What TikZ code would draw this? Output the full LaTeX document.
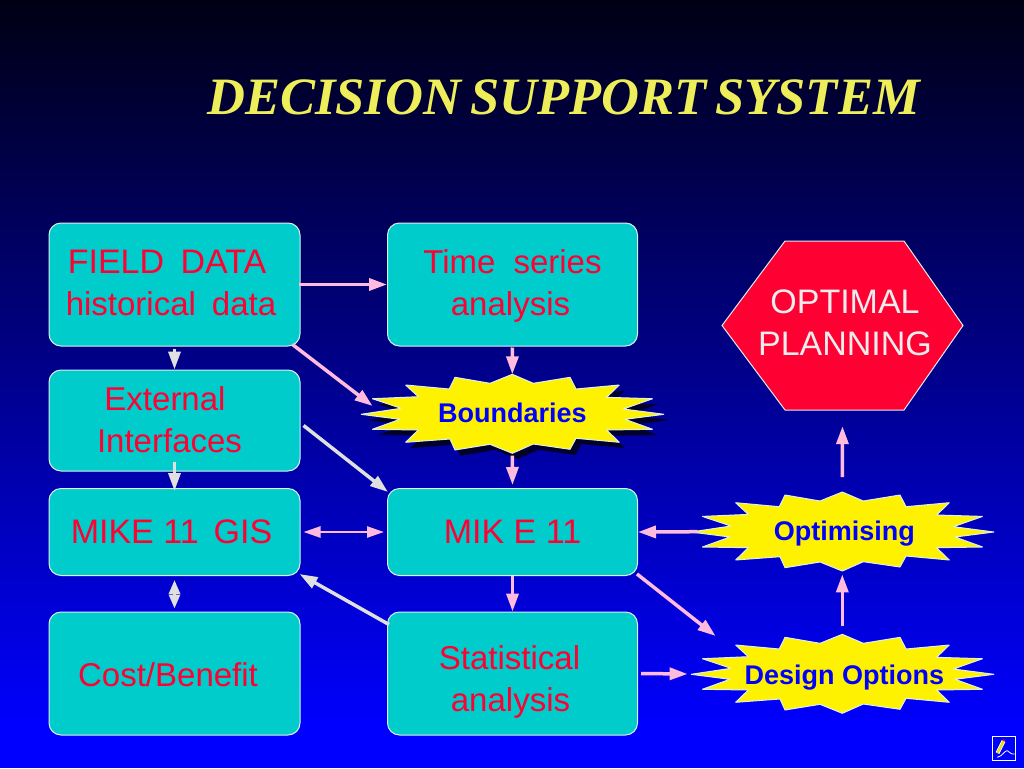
\documentclass[tikz,border=0pt]{standalone}
\usepackage{fontspec}
\setmainfont{Liberation Sans}
\newfontfamily\titlefont[WordSpace=0.7]{Liberation Serif}
\usetikzlibrary{arrows.meta}
\definecolor{boxteal}{RGB}{0,204,204}
\definecolor{boxred}{RGB}{255,0,51}
\definecolor{arrowpink}{RGB}{255,187,221}
\definecolor{arrowgrey}{RGB}{224,224,224}
\definecolor{edgegrey}{RGB}{221,238,238}
\definecolor{titleyellow}{RGB}{238,238,90}
\definecolor{burstshadow}{RGB}{0,0,40}
\definecolor{skytop}{RGB}{0,0,20}
\tikzset{
  databox/.style={draw=edgegrey,line width=1pt,fill=boxteal,rounded corners=12pt,
    minimum width=251pt,inner sep=0pt,text=boxred,font=\fontsize{33}{42}\selectfont},
  burstlabel/.style={minimum width=303pt,minimum height=79pt,inner sep=0pt,text=blue,
    font=\fontsize{27}{32}\bfseries\selectfont},
  burstedge/.style={edgegrey,line width=1pt,line join=bevel,fill=yellow},
  pinkarrow/.style={draw=arrowpink,line width=3.5pt,-{Triangle[length=18pt,width=12pt]}},
  greyarrow/.style={draw=arrowgrey,line width=3.5pt,-{Triangle[length=18pt,width=12pt]}},
  pinkboth/.style={draw=arrowpink,line width=2.5pt,{Triangle[length=17pt,width=11pt]}-{Triangle[length=17pt,width=11pt]}},
  greyboth/.style={draw=arrowgrey,line width=3pt,{Triangle[length=14pt,width=11pt]}-{Triangle[length=14pt,width=11pt]}}
}
\newcommand{\burstpath}{(0,-39.7) -- (21,-30.7) -- (57.7,-36.7) -- (63.7,-25) -- (107,-29) -- (94.3,-16.7)
  -- (140.3,-15.3) -- (111,-5) -- (151.7,0.3) -- (112.7,5.3) -- (140.3,15.3) -- (94.3,16) -- (107,28.3)
  -- (63.7,24.3) -- (57.7,35.3) -- (21,30) -- (0,39.3) -- (-22.3,30.3) -- (-57.3,36) -- (-62.3,25)
  -- (-106.7,28.3) -- (-94,16) -- (-140,15.3) -- (-112.3,5.3) -- (-151.3,0.3) -- (-111.3,-5.7) -- (-140,-15.3)
  -- (-94,-17.3) -- (-106.7,-29) -- (-63,-25) -- (-57.3,-36.7) -- (-22.3,-30.7) -- cycle}
\newcommand{\lines}[2]{\raisebox{#1pt}[0pt][0pt]{\begin{tabular}{@{}c@{}}#2\end{tabular}}}
\newcommand{\off}[1]{\hspace*{#1pt}}
\newcommand{\capsize}{\fontsize{34}{42}\selectfont}
\begin{document}
\begin{tikzpicture}[x=1pt,y=-1pt]
  \useasboundingbox (0,0) rectangle (1024,768);
  \fill[blue] (0,0) rectangle (1024,768);
  \shade[top color=skytop,bottom color=blue] (0,0) rectangle (1024,730);
  \node[text=titleyellow,font=\titlefont\fontsize{52.5}{60}\bfseries\itshape\selectfont] (title) at (563.5,97) {DECISION SUPPORT SYSTEM};

  % boxes
  \node[databox,minimum height=123pt] (fielddata) at (174.5,284.5) {\lines{-8}{\off{-15}\capsize FIELD\hspace{7pt} DATA\\\off{-7}historical\hspace{16pt}data}};
  \node[databox,minimum height=123pt,minimum width=250pt] (timeseries) at (512.5,284.5) {\lines{-8}{Time\hspace{18pt}series\\\off{-4}analysis}};
  \node[databox,minimum height=101pt] (external) at (174.5,420.5) {\lines{-9}{\off{-19}External\\\off{-10}Interfaces}};
  \node[databox,minimum height=87pt] (gis) at (174.5,532) {\lines{-9}{\off{-6}\capsize MIKE 11\hspace{15pt}GIS}};
  \node[databox,minimum height=87pt,minimum width=250pt] (mike) at (512.5,532) {\lines{-9}{\capsize MIK E 11}};
  \node[databox,minimum height=123pt] (cost) at (174.5,673.5) {\lines{-11}{\off{-13}Cost/Benefit}};
  \node[databox,minimum height=123pt,minimum width=250pt] (statistical) at (512.5,673.5) {\lines{-15}{\off{-6}Statistical\\\off{-4}analysis}};

  % hexagon
  \draw[edgegrey,line width=1pt,fill=boxred] (722,325.5) -- (785,241) -- (904,241) -- (963,325.5) -- (904,410) -- (785,410) -- cycle;
  \node[minimum width=241pt,minimum height=169pt,inner sep=0pt,text=white!93!black,font=\fontsize{34}{42}\selectfont] (optimal) at (842.5,325.5) {\lines{-7}{\off{5}OPTIMAL\\\off{5}PLANNING}};

  % bursts
  \fill[burstshadow,shift={(517.6,419.7)}] \burstpath;
  \draw[burstedge,shift={(512.3,414)}] \burstpath;
  \node[burstlabel] (boundaries) at (512.3,414) {\lines{-8}{Boundaries}};
  \draw[burstedge,shift={(842.3,531.7)}] \burstpath;
  \node[burstlabel] (optimising) at (842.3,531.7) {\lines{-9}{\off{4}Optimising}};
  \draw[burstedge,shift={(842.3,674)}] \burstpath;
  \node[burstlabel] (design) at (842.3,674) {\lines{-10}{\off{4}Design Options}};

  % arrows
  \draw[pinkarrow,shorten <=-2pt] (fielddata.east) -- (timeseries.west);
  \draw[pinkarrow,shorten <=1pt] (timeseries.south) -- (boundaries.north);
  \draw[pinkarrow,shorten <=2pt] (boundaries.south) -- ([yshift=3pt]mike.north);
  \draw[pinkarrow] ([shift={(-8,-2)}]fielddata.south east) -- ([shift={(12,-8)}]boundaries.west);
  \draw[greyarrow,shorten <=2pt] (fielddata.south) -- (external.north);
  \draw[greyarrow] ([yshift=10pt]external.south) -- ([yshift=-3pt]gis.north);
  \draw[greyarrow] ([shift={(3,5)}]external.east) -- ([shift={(1,4)}]mike.north west);
  \draw[pinkboth,shorten <=3pt,shorten >=3pt] (gis.east) -- (mike.west);
  \draw[greyboth,shorten <=4pt,shorten >=3pt] (gis.south) -- (cost.north);
  \draw[greyarrow] ([shift={(2,13)}]statistical.north west) -- ([shift={(-1,-2)}]gis.south east);
  \draw[pinkarrow] (mike.south) -- (statistical.north);
  \draw[pinkarrow] ([shift={(-1,-2)}]mike.south east) -- ([shift={(25,-38)}]design.west);
  \draw[pinkarrow,shorten <=3pt,shorten >=3pt] (statistical.east) -- (design.west);
  \draw[pinkarrow,shorten <=8pt,shorten >=3pt] (design.north) -- (optimising.south);
  \draw[pinkarrow] ([xshift=7pt]optimising.west) -- (mike.east);
  \draw[pinkarrow,shorten <=15pt,shorten >=16pt] (optimising.north) -- (optimal.south);

  % pen icon
  \draw[white,line width=1pt,fill=blue] (992.5,736.5) rectangle (1015.5,760);
  \draw[white,line width=4pt] (1003.5,741) -- (997.5,753);
  \draw[yellow!90!black,line width=2.5pt] (1003.5,741) -- (997.5,753);
  \draw[red,line width=2pt] (1004.2,739.6) -- (1003.5,741);
  \draw[white,line width=0.8pt] (997.3,757.3) .. controls (1002.3,756.5) and (1005,750) .. (1007.3,750.7) .. controls (1009.5,751.5) and (1011,755) .. (1014.7,754);
\end{tikzpicture}
\end{document}
